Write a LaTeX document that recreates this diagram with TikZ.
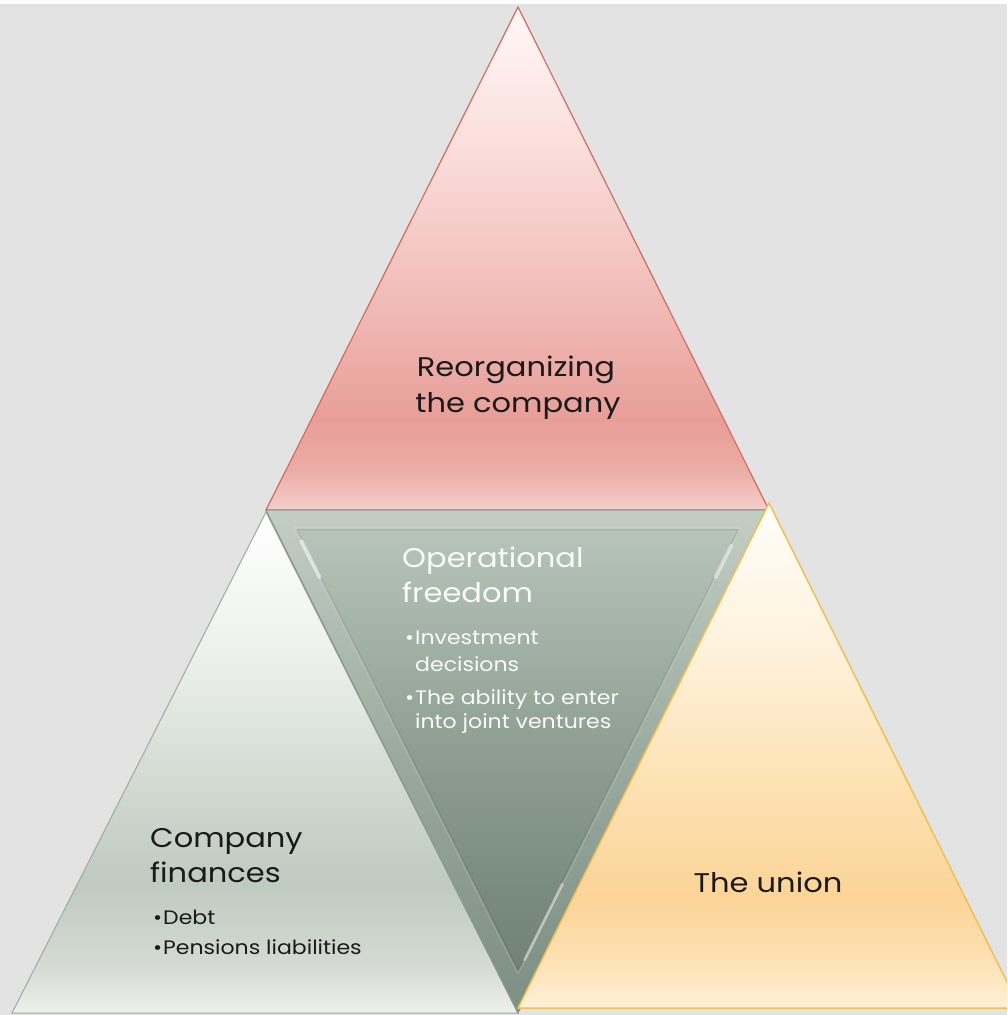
\documentclass[tikz,border=0pt]{standalone}
\usepackage{fontspec}
\setmainfont{Poppins}[FakeStretch=1.13]
\usetikzlibrary{calc}
\definecolor{bg}{HTML}{E3E3E3}
\definecolor{tA}{HTML}{F5CFCB}\definecolor{tB}{HTML}{ECACA6}\definecolor{tC}{HTML}{E89E98}
\definecolor{tD}{HTML}{F1BCB8}\definecolor{tE}{HTML}{FADEDB}\definecolor{tF}{HTML}{FFF8F7}
\definecolor{mA}{HTML}{6B7E71}\definecolor{mB}{HTML}{778A7D}\definecolor{mC}{HTML}{8E9F92}
\definecolor{mD}{HTML}{AAB8AD}\definecolor{mE}{HTML}{BBC7BC}
\definecolor{lA}{HTML}{EEF0EC}\definecolor{lB}{HTML}{D3DAD2}\definecolor{lC}{HTML}{BFCAC0}
\definecolor{lD}{HTML}{D2DAD2}\definecolor{lE}{HTML}{EDF1ED}\definecolor{lF}{HTML}{FFFFFF}
\definecolor{rA}{HTML}{FFF0D6}\definecolor{rB}{HTML}{FDE0B2}\definecolor{rC}{HTML}{FBD498}
\definecolor{rD}{HTML}{FDE0B0}\definecolor{rE}{HTML}{FEF2DC}\definecolor{rF}{HTML}{FFFEFA}
\definecolor{topline}{HTML}{D46B5C}
\definecolor{leftline}{HTML}{9DAAA2}
\definecolor{rightline}{HTML}{F0C050}
\definecolor{midline}{HTML}{7D8F83}
\definecolor{ink}{HTML}{1A1A1A}
\pgfdeclareverticalshading{topshade}{100bp}{color(0bp)=(tA); color(25bp)=(tA); color(29bp)=(tB); color(34bp)=(tC); color(46bp)=(tD); color(61bp)=(tE); color(75bp)=(tF); color(100bp)=(tF)}
\pgfdeclareverticalshading{midshade}{100bp}{color(0bp)=(mA); color(25bp)=(mA); color(36bp)=(mB); color(51bp)=(mC); color(66bp)=(mD); color(75bp)=(mE); color(100bp)=(mE)}
\pgfdeclareverticalshading{leftshade}{100bp}{color(0bp)=(lA); color(25bp)=(lA); color(30bp)=(lB); color(38bp)=(lC); color(48bp)=(lD); color(61bp)=(lE); color(75bp)=(lF); color(100bp)=(lF)}
\pgfdeclareverticalshading{rightshade}{100bp}{color(0bp)=(rA); color(25bp)=(rA); color(30bp)=(rB); color(36bp)=(rC); color(46bp)=(rD); color(61bp)=(rE); color(75bp)=(rF); color(100bp)=(rF)}
\tikzset{
  big/.style={font=\fontsize{27}{32}\selectfont, inner sep=0pt, text=ink},
  small/.style={font=\fontsize{19.5}{23}\selectfont, inner sep=0pt, text=ink},
  whitetext/.style={text=white!96!gray},
}
\newcommand{\bul}[1]{\makebox[#1][l]{\textbullet}}
\begin{document}
\begin{tikzpicture}[x=1pt,y=-1pt]
\useasboundingbox (0,0) rectangle (1007,1015);
\clip (0,0) rectangle (1007,1015);
\fill[bg] (0,0) rectangle (1007,1015);
\fill[white!94!bg] (0,0) rectangle (1007,4);
% vertices
\coordinate (tT) at (518,7);
\coordinate (tL) at (266,510);
\coordinate (tR) at (769,510);
\coordinate (lT) at (266,512);
\coordinate (lL) at (12,1013);
\coordinate (lR) at (518,1013);
\coordinate (mL) at (266,510);
\coordinate (mR) at (769,510);
\coordinate (mB) at (518,1013);
\coordinate (rT) at (769,503);
\coordinate (rL) at (518,1008);
\coordinate (rR) at (1020,1008);
% top triangle
\draw[topline, line width=1.2pt, shading=topshade] (tT) -- (tR) -- (tL) -- cycle;
% left triangle
\draw[leftline, line width=1pt, shading=leftshade] (lT) -- (lR) -- (lL) -- cycle;
% middle inverted triangle
\draw[midline, line width=1pt, shading=midshade] (mL) -- (mR) -- (mB) -- cycle;
\coordinate (mI) at (517.5,666);
\coordinate (iL) at ($(mI)!0.885!(mL)$);
\coordinate (iR) at ($(mI)!0.885!(mR)$);
\coordinate (iB) at ($(mI)!0.885!(mB)$);
\fill[white, opacity=0.13, even odd rule] (mL) -- (mR) -- (mB) -- cycle (iL) -- (iR) -- (iB) -- cycle;
\draw[white, opacity=0.15, line width=2pt, line join=round] (iL) -- (iR) -- (iB) -- cycle;
\draw[black, opacity=0.08, line width=1.5pt, line join=round] ($(iL)+(2,2)$) -- ($(iR)+(-2,2)$) -- ($(iB)+(0,-3)$) -- cycle;
\draw[white, opacity=0.55, line width=4pt, line cap=round] ($(iL)!0.03!(iB)$) -- ($(iL)!0.11!(iB)$);
\draw[white, opacity=0.45, line width=4pt, line cap=round] ($(iR)!0.04!(iB)$) -- ($(iR)!0.11!(iB)$);
\draw[white, opacity=0.4, line width=3pt, line cap=round] ($(iB)!0.03!(iR)$) -- ($(iB)!0.2!(iR)$);
% right triangle
\draw[rightline, line width=1.5pt, shading=rightshade] (rT) -- (rR) -- (rL) -- cycle;
% texts
\node[big, anchor=base] (t1) at (516,376) {Reorganizing};
\node[big, anchor=base] (t2) at (518,412) {the company};
\node[big, whitetext, anchor=base west] (m1) at (402,567) {Operational};
\node[big, whitetext, anchor=base west] (m2) at (402,602) {freedom};
\node[small, whitetext, anchor=base west] (m3) at (405,644) {\bul{10pt}Investment};
\node[small, whitetext, anchor=base west] (m4) at (415,671) {decisions};
\node[small, whitetext, anchor=base west] (m5) at (405,704) {\bul{10pt}The ability to enter};
\node[small, whitetext, anchor=base west] (m6) at (415,728) {into joint ventures};
\node[big, anchor=base west] (c1) at (150,847) {Company};
\node[big, anchor=base west] (c2) at (150,882) {finances};
\node[small, anchor=base west] (c3) at (153,924) {\bul{10pt}Debt};
\node[small, anchor=base west] (c4) at (153,954) {\bul{10pt}Pensions liabilities};
\node[big, anchor=base] (u1) at (768,892) {The union};
\end{tikzpicture}
\end{document}
